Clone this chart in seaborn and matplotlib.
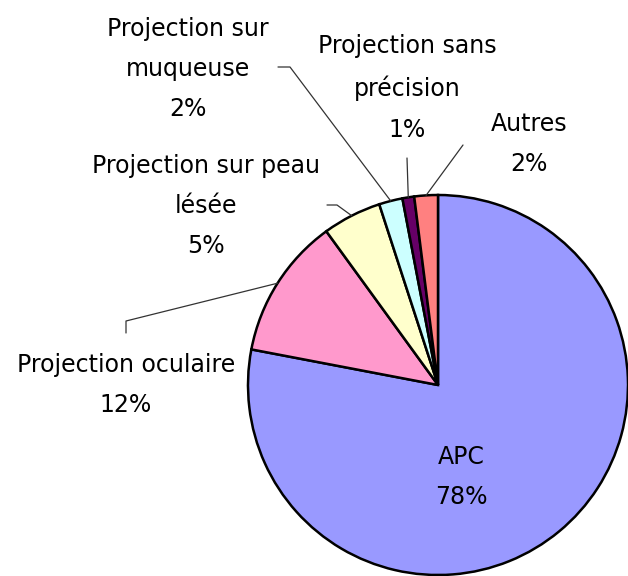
import numpy as np
import seaborn as sns
import matplotlib.pyplot as plt

# data
labels = ["APC", "Projection oculaire", "Projection sur peau\nlésée",
          "Projection sur\nmuqueuse", "Projection sans\nprécision", "Autres"]
values = [78, 12, 5, 2, 1, 2]
colors = ["#9999FF", "#FF99CC", "#FFFFCC", "#CCFFFF", "#660066", "#FF8080"]

# layout (pixel coords, y measured from top)
W, H = 628, 576
center_px = (438, 385)
radius = 190
# label text centre and leader line elbows (None = label inside slice)
label_pos = [(461, 477), (126, 385), (206, 206), (188, 69), (407, 88), (529, 144)]
leaders = [None,
           [(126, 321), (126, 333)],
           [(337, 205), (327, 205)],
           [(290, 67), (278, 67)],
           [(407, 158)],
           [(463, 145)]]

sns.set_theme(style="white")
plt.rcParams["font.family"] = ["DejaVu Sans"]

fig = plt.figure(figsize=(W / 100, H / 100), dpi=100)
ax = fig.add_axes([0, 0, 1, 1])

cx, cy = center_px[0], H - center_px[1]
wedges, _ = ax.pie(values, colors=colors, startangle=90, counterclock=False,
                   center=(cx, cy), radius=radius,
                   wedgeprops=dict(edgecolor="black", linewidth=1.8))

total = sum(values)
for i, (lab, v, w) in enumerate(zip(labels, values, wedges)):
    text = f"{lab}\n{round(100 * v / total)}%"
    tx, ty = label_pos[i]
    ax.text(tx, H - ty, text, ha="center", va="center", fontsize=17,
            linespacing=1.85, color="black")
    if leaders[i] is not None:
        mid = np.deg2rad((w.theta1 + w.theta2) / 2)
        pts = [(cx + radius * np.cos(mid), cy + radius * np.sin(mid))]
        pts += [(x, H - y) for x, y in leaders[i]]
        xs, ys = zip(*pts)
        ax.plot(xs, ys, color="#333333", linewidth=0.9)

ax.set_xlim(0, W)
ax.set_ylim(0, H)
ax.set_aspect("equal")
ax.axis("off")

fig.savefig("out.png", dpi=100)
